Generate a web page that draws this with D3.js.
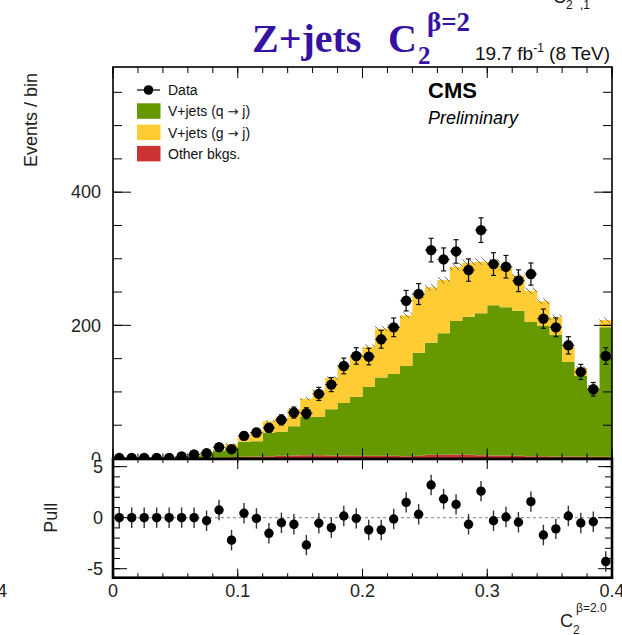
<!DOCTYPE html>
<html>
<head>
<meta charset="utf-8">
<script src="https://cdn.jsdelivr.net/npm/d3@7"></script>
<style>
  body { margin: 0; background: #fff; }
  svg { display: block; font-family: "Liberation Sans", Arial, Helvetica, sans-serif; }
</style>
</head>
<body>
<svg id="chart" width="622" height="635"></svg>
<script>
// ---- data: C2 (beta=2) distribution, 40 bins of width 0.01 ----
const binLow = [0.00,0.01,0.02,0.03,0.04,0.05,0.06,0.07,0.08,0.09,
                0.10,0.11,0.12,0.13,0.14,0.15,0.16,0.17,0.18,0.19,
                0.20,0.21,0.22,0.23,0.24,0.25,0.26,0.27,0.28,0.29,
                0.30,0.31,0.32,0.33,0.34,0.35,0.36,0.37,0.38,0.39];
const binWidth = 0.01;

// observed events per bin
const dataCounts = [1,1,1,1,1,3,6,8,17,14,
                    34,39,46,58,69,68,97,111,139,154,
                    153,179,197,237,247,313,299,311,283,343,
                    292,288,267,277,210,197,170,130,104,154];

// other backgrounds
const otherBkg = [0,0,0,0,0,0,0,0.5,1.5,2,
                  2.5,3,3.5,4,4.5,5,5,4.5,4.5,4,
                  4,4,4,3.5,4,5.5,5.5,6,5.5,5,
                  4.5,4.5,4,3.5,3.5,3,3,3,2.5,2.5];

// V+jets, quark-initiated jets
const vjetsQuark = [0.7,0.7,0.7,0.7,0.7,2,4,5.5,10.5,15,
                    22.5,23,35,36,44,57.5,57.5,69.5,79,88.5,
                    103.5,117.5,123,135.5,155,168.5,182.5,200.5,207.5,213,
                    225.5,222.5,218,201.5,195.5,183,142,121,101.5,194.5];

// V+jets, gluon-initiated jets
const vjetsGluon = [0.3,0.3,0.3,0.3,0.3,1,2,3,1.5,4.6,
                    6,13,17.5,21,25.4,27.4,39.9,47,53.9,62.4,
                    60.5,73.5,72.2,76.2,87.2,83.2,80,81.5,81,77.5,
                    65,60,53,47,37,26,23,11.5,3.8,11];

// pull of data vs. prediction
const pullValues = [0,0,0,0,0,0,0,-0.3,0.75,-2.2,
                    0.43,-0.07,-1.53,-0.5,-0.65,-2.68,-0.55,-0.98,0.17,-0.07,
                    -1.2,-1.2,-0.13,1.5,0.33,3.2,1.83,1.3,-0.65,2.6,
                    -0.3,0.07,-0.45,1.57,-1.7,-1.1,0.17,-0.52,-0.4,-4.3];

const mainYTicksMajor = [0, 200, 400];
const mainYTicksMinor = [0,50,100,150,200,250,300,350,400,450,500,550];
const xTicksMajor = [0, 0.1, 0.2, 0.3, 0.4];
const xTicksMinor = [0,0.02,0.04,0.06,0.08,0.1,0.12,0.14,0.16,0.18,0.2,0.22,0.24,0.26,0.28,0.3,0.32,0.34,0.36,0.38,0.4];
const xTickLabels = ["0", "0.1", "0.2", "0.3", "0.4"];
const pullTicksMajor = [-5, 0, 5];
const pullTicksMinor = [-5,-4,-3,-2,-1,0,1,2,3,4,5];

const legendItems = [
  { label: ["Data"], kind: "marker" },
  { label: ["V+jets (q ", "\u2192", " j)"], kind: "box", color: "#669900" },
  { label: ["V+jets (g ", "\u2192", " j)"], kind: "box", color: "#ffcc33" },
  { label: ["Other bkgs."], kind: "box", color: "#cc3333" }
];

// ---- layout ----
const svg = d3.select("#chart");
const L = 113, R = 612, T = 67, B = 458.5;   // main pad frame
const PT = 459, PB = 577.7;                   // pull pad frame

const x = d3.scaleLinear().domain([0, 0.4]).range([L, R]);
const y = d3.scaleLinear().domain([0, 588]).range([B, T]);
const yp = d3.scaleLinear().domain([-5.88, 5.75]).range([PB, PT]);

const COLORS = { other: "#cc3333", quark: "#669900", gluon: "#ffcc33" };

// hatch used for the prediction uncertainty band
const defs = svg.append("defs");
const hatch = defs.append("pattern").attr("id", "unc").attr("patternUnits", "userSpaceOnUse")
  .attr("width", 7).attr("height", 7);
hatch.append("path").attr("d", "M0,0 L7,7 M-1,6 L1,8 M6,-1 L8,1")
  .attr("stroke", "#666").attr("stroke-width", 0.9);

// ---- stacked histogram ----
const table = binLow.map((lo, i) => ({
  lo, other: otherBkg[i], quark: vjetsQuark[i], gluon: vjetsGluon[i]
}));
const series = d3.stack().keys(["other", "quark", "gluon"])(table);

const stepArea = d3.area()
  .x(p => x(p.x)).y0(p => y(p.y0)).y1(p => y(p.y1));

const gMain = svg.append("g");
series.forEach(s => {
  const pts = [];
  s.forEach(d => {
    pts.push({ x: d.data.lo, y0: d[0], y1: d[1] });
    pts.push({ x: d.data.lo + binWidth, y0: d[0], y1: d[1] });
  });
  gMain.append("path").attr("d", stepArea(pts)).attr("fill", COLORS[s.key]);
});

// prediction uncertainty (hatched band around the stack total)
const totals = table.map(d => d.other + d.quark + d.gluon);
gMain.append("g").selectAll("rect").data(table.filter((d, i) => totals[i] > 20)).join("rect")
  .attr("x", d => x(d.lo))
  .attr("width", d => x(d.lo + binWidth) - x(d.lo))
  .attr("y", d => { const t = d.other + d.quark + d.gluon; return y(t + 0.015 * t + 1); })
  .attr("height", d => { const t = d.other + d.quark + d.gluon; return y(t - 0.015 * t - 1) - y(t + 0.015 * t + 1); })
  .attr("fill", "url(#unc)");

// ---- main axes ----
function ticksY(g, scale, values, len, xPos, dir) {
  g.selectAll(null).data(values).join("line")
    .attr("x1", xPos).attr("x2", xPos + dir * len)
    .attr("y1", d => scale(d)).attr("y2", d => scale(d))
    .attr("stroke", "#000").attr("stroke-width", 1);
}
function ticksX(g, scale, values, len, yPos, dir) {
  g.selectAll(null).data(values).join("line")
    .attr("y1", yPos).attr("y2", yPos + dir * len)
    .attr("x1", d => scale(d)).attr("x2", d => scale(d))
    .attr("stroke", "#000").attr("stroke-width", 1);
}

const gAx = svg.append("g");
ticksY(gAx.append("g"), y, mainYTicksMinor, 9, L, 1);
ticksY(gAx.append("g"), y, mainYTicksMajor, 18, L, 1);
ticksY(gAx.append("g"), y, mainYTicksMinor, 9, R, -1);
ticksY(gAx.append("g"), y, mainYTicksMajor, 18, R, -1);
ticksX(gAx.append("g"), x, xTicksMinor, 6, T, 1);
ticksX(gAx.append("g"), x, xTicksMajor, 11, T, 1);
ticksX(gAx.append("g"), x, xTicksMinor, 5, B, -1);
ticksX(gAx.append("g"), x, xTicksMajor, 10, B, -1);

gAx.append("g").selectAll("text").data(mainYTicksMajor).join("text")
  .attr("x", 101).attr("y", d => y(d)).attr("dy", "0.35em")
  .attr("text-anchor", "end").attr("font-size", 18).attr("fill", "#222")
  .text(d => d);

svg.append("rect").attr("x", L).attr("y", T).attr("width", R - L).attr("height", B - T)
  .attr("fill", "none").attr("stroke", "#000").attr("stroke-width", 1.6);

// ---- data points ----
const gData = svg.append("g");
dataCounts.forEach((n, i) => {
  const cx = x(binLow[i] + binWidth / 2);
  const err = Math.sqrt(n);
  const g = gData.append("g");
  g.append("line").attr("x1", cx).attr("x2", cx).attr("y1", y(n + err)).attr("y2", y(Math.max(0, n - err)))
    .attr("stroke", "#111").attr("stroke-width", 1.3);
  [n + err, n - err].forEach(v => {
    if (v > 0) g.append("line").attr("x1", cx - 2.5).attr("x2", cx + 2.5).attr("y1", y(v)).attr("y2", y(v))
      .attr("stroke", "#111").attr("stroke-width", 1.2);
  });
  g.append("line").attr("x1", x(binLow[i])).attr("x2", x(binLow[i] + binWidth)).attr("y1", y(n)).attr("y2", y(n))
    .attr("stroke", "#333").attr("stroke-width", 1);
  g.append("circle").attr("cx", cx).attr("cy", y(n)).attr("r", 5.2).attr("fill", "#000");
});

// ---- legend ----
const gLeg = svg.append("g");
legendItems.forEach((it, i) => {
  const cy = 90 + i * 21.3;
  if (it.kind === "marker") {
    gLeg.append("line").attr("x1", 137).attr("x2", 160).attr("y1", cy).attr("y2", cy)
      .attr("stroke", "#000").attr("stroke-width", 1.2);
    gLeg.append("circle").attr("cx", 148.5).attr("cy", cy).attr("r", 4.8).attr("fill", "#000");
  } else {
    gLeg.append("rect").attr("x", 137).attr("y", cy - 8).attr("width", 23.5).attr("height", 15.5)
      .attr("fill", it.color);
  }
  const t = gLeg.append("text").attr("x", 168).attr("y", cy + 5).attr("font-size", 14).attr("fill", "#111");
  it.label.forEach((part, k) => {
    const sp = t.append("tspan").text(part);
    if (part === "\u2192") sp.style("font-family", "'DejaVu Sans', sans-serif").attr("font-size", 13);
  });
});

// ---- CMS labels ----
svg.append("text").attr("x", 428).attr("y", 98).attr("font-size", 22).attr("font-weight", "bold")
  .attr("fill", "#000").text("CMS");
svg.append("text").attr("x", 428).attr("y", 124).attr("font-size", 18).attr("font-style", "italic")
  .attr("fill", "#000").text("Preliminary");

// ---- title ----
const title = svg.append("text").attr("y", 52)
  .style("font-family", "'Liberation Serif', 'Times New Roman', serif")
  .attr("font-weight", "bold").attr("fill", "#3512a3");
title.append("tspan").attr("x", 252).attr("font-size", 40).text("Z+jets");
title.append("tspan").attr("x", 388).attr("font-size", 40).text("C");
title.append("tspan").attr("x", 418).attr("y", 64).attr("font-size", 25).text("2");
title.append("tspan").attr("x", 427).attr("y", 31).attr("font-size", 27).text("\u03B2=2");

const lumi = svg.append("text").attr("x", 610).attr("y", 60).attr("text-anchor", "end")
  .attr("font-size", 19).attr("fill", "#111");
lumi.append("tspan").text("19.7 fb");
lumi.append("tspan").attr("dy", -8).attr("font-size", 12).text("-1");
lumi.append("tspan").attr("dy", 8).text(" (8 TeV)");

// partial label of the neighbouring panel at the page edge
const edge = svg.append("text").attr("font-size", 18).attr("fill", "#111");
edge.append("tspan").attr("x", 553).attr("y", 3).text("C");
edge.append("tspan").attr("x", 566).attr("y", 9).attr("font-size", 12).text("2");
edge.append("tspan").attr("x", 580).attr("y", 9).attr("font-size", 12).text(",1");

// y title
svg.append("text").attr("transform", "translate(37,73) rotate(-90)")
  .attr("text-anchor", "end").attr("font-size", 18).attr("fill", "#222").text("Events / bin");

// ---- pull pad ----
svg.append("rect").attr("x", 0).attr("y", PT + 1).attr("width", 622).attr("height", 635 - PT - 1).attr("fill", "#fff");

const gPull = svg.append("g");
gPull.append("line").attr("x1", L).attr("x2", R).attr("y1", yp(0)).attr("y2", yp(0))
  .attr("stroke", "#999").attr("stroke-width", 1.3).attr("stroke-dasharray", "3,3");

ticksY(gPull.append("g"), yp, pullTicksMinor, 7, L, 1);
ticksY(gPull.append("g"), yp, pullTicksMajor, 14, L, 1);
ticksY(gPull.append("g"), yp, pullTicksMinor, 7, R, -1);
ticksY(gPull.append("g"), yp, pullTicksMajor, 14, R, -1);
ticksX(gPull.append("g"), x, xTicksMinor, 4, PT, 1);
ticksX(gPull.append("g"), x, xTicksMajor, 10, PT, 1);
ticksX(gPull.append("g"), x, xTicksMinor, 4.5, PB, -1);
ticksX(gPull.append("g"), x, xTicksMajor, 9, PB, -1);

pullValues.forEach((p, i) => {
  const cx = x(binLow[i] + binWidth / 2);
  gPull.append("line").attr("x1", cx).attr("x2", cx).attr("y1", yp(p + 1)).attr("y2", yp(p - 1))
    .attr("stroke", "#333").attr("stroke-width", 1.4);
  gPull.append("circle").attr("cx", cx).attr("cy", yp(p)).attr("r", 4.7).attr("fill", "#000");
});

svg.append("rect").attr("x", L).attr("y", PT).attr("width", R - L).attr("height", PB - PT)
  .attr("fill", "none").attr("stroke", "#000").attr("stroke-width", 2.6);

gPull.append("g").selectAll("text").data(pullTicksMajor).join("text")
  .attr("x", 103).attr("y", d => yp(d)).attr("dy", "0.35em")
  .attr("text-anchor", "end").attr("font-size", 18).attr("fill", "#222")
  .text(d => d);

svg.append("text").attr("transform", `translate(57,${yp(0)}) rotate(-90)`)
  .attr("text-anchor", "middle").attr("font-size", 18).attr("fill", "#222").text("Pull");

svg.append("g").selectAll("text").data(xTicksMajor).join("text")
  .attr("x", d => x(d)).attr("y", 597).attr("text-anchor", "middle")
  .attr("font-size", 18).attr("fill", "#222")
  .text((d, i) => xTickLabels[i]);

// clipped tick label of the neighbouring panel
svg.append("text").attr("x", 7).attr("y", 597).attr("text-anchor", "end")
  .attr("font-size", 18).attr("fill", "#222").text("0.4");

// x title
const xt = svg.append("text").attr("fill", "#222");
xt.append("tspan").attr("x", 560).attr("y", 627).attr("font-size", 18).text("C");
xt.append("tspan").attr("x", 573).attr("y", 634).attr("font-size", 12).text("2");
xt.append("tspan").attr("x", 576).attr("y", 612).attr("font-size", 12).text("\u03B2=2.0");
</script>
</body>
</html>
